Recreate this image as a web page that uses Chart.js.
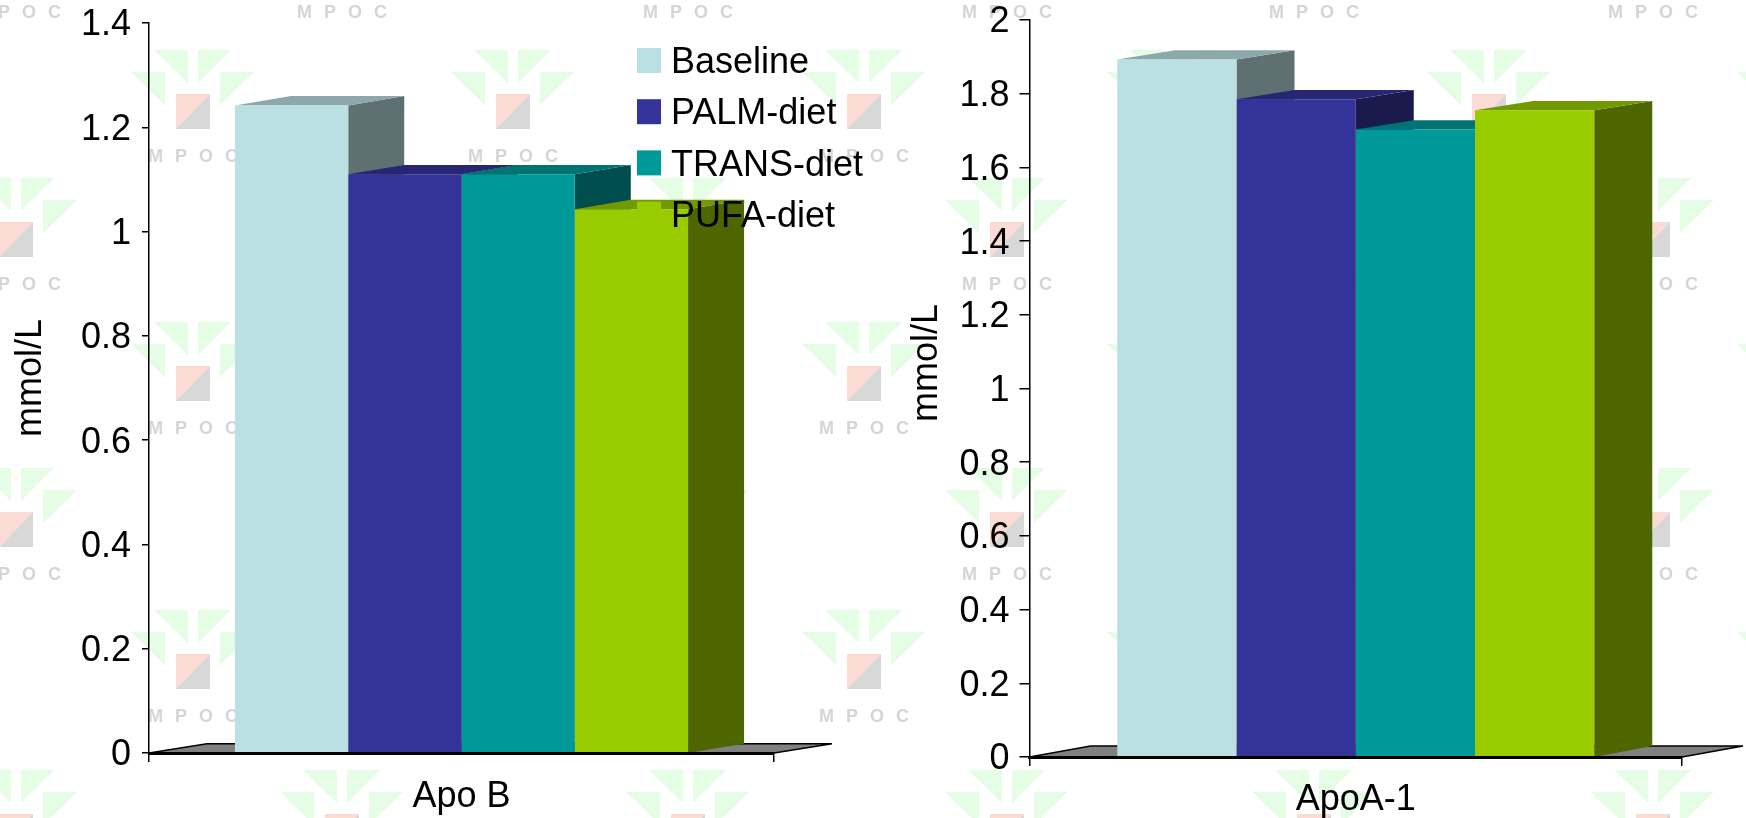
<!DOCTYPE html>
<html>
<head>
<meta charset="utf-8">
<title>Apo B and ApoA-1</title>
<script src="https://cdn.jsdelivr.net/npm/chart.js@4"></script>
<style>
    body { margin: 0; background: #fff; overflow: hidden; }
    canvas { position: absolute; top: 0; }
</style>
</head>
<body>
<canvas id="watermark" width="1746" height="818" style="left:0"></canvas>
<canvas id="apoBChart" width="873" height="818" style="left:0"></canvas>
<canvas id="apoAChart" width="873" height="818" style="left:873px"></canvas>
<script>
const seriesNames = ['Baseline', 'PALM-diet', 'TRANS-diet', 'PUFA-diet'];
const apoBValues = [1.242, 1.11, 1.11, 1.043];
const apoAValues = [1.893, 1.785, 1.703, 1.755];
const apoBTicks = ['0', '0.2', '0.4', '0.6', '0.8', '1', '1.2', '1.4'];
const apoATicks = ['0', '0.2', '0.4', '0.6', '0.8', '1', '1.2', '1.4', '1.6', '1.8', '2'];

const frontColors = ['#bbe0e3', '#333399', '#009999', '#99cc00'];
const topColors = ['#8ca8aa', '#262673', '#007373', '#739900'];
const sideColors = ['#5e7072', '#1a1a4d', '#004d4d', '#4d6600'];

const FONT = '"Liberation Sans", Arial, sans-serif';

// background logos, top left corner of each
const logoRowA = { xs: [131, 451, 802, 1107, 1427, 1737], ys: [50, 322, 610] };
const logoRowB = { xs: [-46, 280, 626, 945, 1252, 1591], ys: [-94, 178, 468, 770] };

function triangle(ctx, x, y, pts, color) {
    ctx.fillStyle = color;
    ctx.beginPath();
    ctx.moveTo(x + pts[0], y + pts[1]);
    ctx.lineTo(x + pts[2], y + pts[3]);
    ctx.lineTo(x + pts[4], y + pts[5]);
    ctx.closePath();
    ctx.fill();
}

function drawLogo(ctx, x, y) {
    const green = '#e5fde5';
    triangle(ctx, x, y, [23, 0, 57, 0, 57, 33], green);
    triangle(ctx, x, y, [67, 0, 100, 0, 67, 33], green);
    triangle(ctx, x, y, [0, 22, 34, 22, 34, 55], green);
    triangle(ctx, x, y, [89, 22, 123, 22, 89, 55], green);
    triangle(ctx, x, y, [45, 44, 79, 44, 45, 79], '#fbdcd4');
    triangle(ctx, x, y, [79, 44, 79, 79, 45, 79], '#d8d8d8');
    ctx.fillStyle = '#d5d5d5';
    ctx.font = 'bold 18px ' + FONT;
    ctx.letterSpacing = '12px';
    ctx.textBaseline = 'middle';
    ctx.fillText('MPOC', x + 17, y + 107);
}

const bg = document.getElementById('watermark').getContext('2d');
[logoRowA, logoRowB].forEach(function (row) {
    row.ys.forEach(function (y) {
        row.xs.forEach(function (x) {
            drawLogo(bg, x, y);
        });
    });
});

// top and side faces of the bars plus the grey floor, the bar fronts come from the library
const box3d = {
    id: 'box3d',
    beforeDatasetsDraw(chart, args, opts) {
        const ctx = chart.ctx;
        const area = chart.chartArea;
        const y0 = area.bottom;

        ctx.save();
        ctx.fillStyle = '#808080';
        ctx.strokeStyle = '#000';
        ctx.lineWidth = 1.5;
        ctx.beginPath();
        ctx.moveTo(area.left, y0);
        ctx.lineTo(area.left + opts.floorX, y0 - opts.floorY);
        ctx.lineTo(area.right + opts.floorX, y0 - opts.floorY);
        ctx.lineTo(area.right, y0);
        ctx.closePath();
        ctx.fill();
        ctx.stroke();

        chart.data.datasets.forEach(function (ds, i) {
            const bar = chart.getDatasetMeta(i).data[0];
            const x0 = bar.x - bar.width / 2;
            const x1 = bar.x + bar.width / 2;

            ctx.fillStyle = sideColors[i];
            ctx.beginPath();
            ctx.moveTo(x1, bar.y);
            ctx.lineTo(x1 + opts.depthX, bar.y - opts.depthY);
            ctx.lineTo(x1 + opts.depthX, y0 - opts.floorY);
            ctx.lineTo(x1, y0);
            ctx.closePath();
            ctx.fill();

            ctx.fillStyle = topColors[i];
            ctx.beginPath();
            ctx.moveTo(x0, bar.y);
            ctx.lineTo(x0 + opts.depthX, bar.y - opts.depthY);
            ctx.lineTo(x1 + opts.depthX, bar.y - opts.depthY);
            ctx.lineTo(x1, bar.y);
            ctx.closePath();
            ctx.fill();
        });
        ctx.restore();
    },
    afterDraw(chart, args, opts) {
        const ctx = chart.ctx;
        ctx.save();
        ctx.fillStyle = '#000';
        ctx.textBaseline = 'middle';
        ctx.textAlign = 'center';

        // y axis title sits off the middle of the axis
        ctx.font = '36px ' + FONT;
        ctx.translate(opts.titleX, opts.titleY);
        ctx.rotate(-Math.PI / 2);
        ctx.fillText('mmol/L', 0, 0);
        ctx.restore();

        if (!opts.legend) {
            return;
        }
        ctx.save();
        ctx.font = '36px ' + FONT;
        ctx.textBaseline = 'middle';
        seriesNames.forEach(function (name, i) {
            const top = 48 + i * 51.2;
            ctx.fillStyle = frontColors[i];
            ctx.fillRect(637, top, 24, 25);
            ctx.fillStyle = '#000';
            ctx.fillText(name, 671, top + 15 + i * 0.3);
        });
        ctx.restore();
    }
};

function makeChart(id, category, values, tickLabels, maxY, layout) {
    return new Chart(document.getElementById(id), {
        type: 'bar',
        plugins: [box3d],
        data: {
            labels: [category],
            datasets: seriesNames.map(function (name, i) {
                return {
                    label: name,
                    data: [values[i]],
                    backgroundColor: frontColors[i],
                    borderWidth: 0,
                    barPercentage: 1,
                    categoryPercentage: layout.groupWidth
                };
            })
        },
        options: {
            responsive: false,
            animation: false,
            layout: {
                autoPadding: false,
                padding: { left: 0, top: layout.top, right: layout.right, bottom: 0 }
            },
            scales: {
                x: {
                    afterFit: function (s) {
                        s.height = layout.xHeight;
                        s.paddingLeft = s.paddingRight = 0;
                    },
                    border: { color: '#000', width: 3, z: 1 },
                    grid: { offset: true, drawOnChartArea: false, color: '#000', lineWidth: 1.5, tickLength: 9 },
                    ticks: { color: '#000', padding: layout.xPad, font: { family: FONT, size: 36 } }
                },
                y: {
                    min: 0,
                    max: maxY,
                    // keep the plot box where it is set above, whatever the label heights
                    afterFit: function (s) {
                        s.width = layout.yWidth;
                        s.paddingTop = s.paddingBottom = 0;
                    },
                    border: { color: '#000', width: 1.5 },
                    grid: { drawOnChartArea: false, color: '#000', lineWidth: 1.5, tickLength: layout.yTick },
                    ticks: {
                        stepSize: 0.2,
                        color: '#000',
                        padding: layout.yPad,
                        labelOffset: 2.5,
                        font: { family: FONT, size: 36 },
                        callback: function (v, i) { return tickLabels[i]; }
                    }
                }
            },
            plugins: {
                legend: { display: false },
                box3d: layout.box
            }
        }
    });
}

makeChart('apoBChart', 'Apo B', apoBValues, apoBTicks, 1.4, {
    groupWidth: 0.725, top: 23, right: 99, xHeight: 65, yWidth: 149,
    xPad: 13, yTick: 7, yPad: 11,
    box: { depthX: 56, depthY: 9.3, floorX: 58, floorY: 9.3, titleX: 31, titleY: 378, legend: true }
});

makeChart('apoAChart', 'ApoA-1', apoAValues, apoATicks, 2, {
    groupWidth: 0.731, top: 20, right: 64, xHeight: 61, yWidth: 156.5,
    xPad: 12, yTick: 10, yPad: 10,
    box: { depthX: 58, depthY: 9.3, floorX: 61, floorY: 11, titleX: 54, titleY: 363, legend: false }
});
</script>
</body>
</html>
